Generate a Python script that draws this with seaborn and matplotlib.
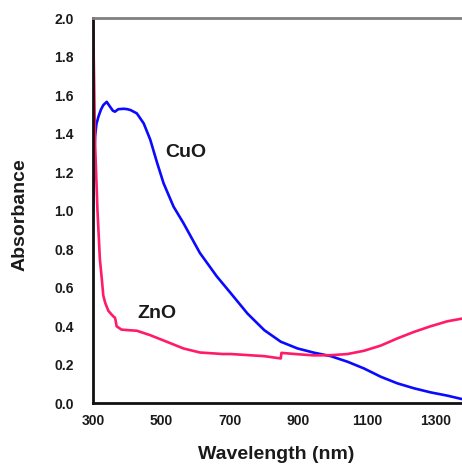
import numpy as np
import pandas as pd
import matplotlib
matplotlib.use("Agg")
import matplotlib.pyplot as plt
import seaborn as sns

# CuO absorbance spectrum
cuo_wavelength = [300, 303, 306, 310, 316, 323, 330, 340, 350, 358, 364, 374, 390, 400,
                  410, 428, 448, 467, 487, 506, 535, 564, 612, 661, 703, 751, 800, 848,
                  897, 945, 994, 1043, 1091, 1140, 1188, 1237, 1285, 1334, 1377]
cuo_absorbance = [1.00, 1.25, 1.385, 1.45, 1.49, 1.525, 1.549, 1.566, 1.54, 1.52, 1.515,
                  1.528, 1.530, 1.528, 1.523, 1.506, 1.454, 1.37, 1.25, 1.143, 1.022,
                  0.936, 0.781, 0.66, 0.57, 0.466, 0.38, 0.32, 0.285, 0.263, 0.245,
                  0.216, 0.181, 0.138, 0.104, 0.078, 0.057, 0.04, 0.022]

# ZnO absorbance spectrum
zno_wavelength = [300, 303, 306, 313, 320, 326, 330, 336, 345, 359, 364, 366, 369, 383,
                  403, 428, 467, 515, 564, 612, 680, 703, 800, 848, 850, 897, 945, 994,
                  1043, 1091, 1140, 1188, 1237, 1285, 1334, 1377]
zno_absorbance = [2.02, 1.70, 1.35, 1.005, 0.75, 0.64, 0.56, 0.52, 0.48, 0.452, 0.445,
                  0.43, 0.40, 0.383, 0.38, 0.377, 0.354, 0.32, 0.285, 0.264, 0.256,
                  0.256, 0.245, 0.233, 0.262, 0.255, 0.249, 0.25, 0.256, 0.273, 0.30,
                  0.337, 0.371, 0.40, 0.426, 0.44]

x_ticks = [300, 500, 700, 900, 1100, 1300]
y_ticks = [0.0, 0.2, 0.4, 0.6, 0.8, 1.0, 1.2, 1.4, 1.6, 1.8, 2.0]

sns.set_style("white")
plt.rcParams["font.family"] = ["Liberation Sans", "DejaVu Sans"]
plt.rcParams["font.weight"] = "bold"

df = pd.concat([
    pd.DataFrame({"wavelength": cuo_wavelength, "absorbance": cuo_absorbance, "sample": "CuO"}),
    pd.DataFrame({"wavelength": zno_wavelength, "absorbance": zno_absorbance, "sample": "ZnO"}),
])

fig = plt.figure(figsize=(4.62, 4.68), dpi=100)
ax = fig.add_axes([0.2013, 0.1382, 0.7987, 0.8227])

sns.lineplot(data=df, x="wavelength", y="absorbance", hue="sample",
             palette={"CuO": "#0a0aff", "ZnO": "#ff1a6a"}, linewidth=1.9,
             legend=False, ax=ax, sort=False)

ax.set_xlim(300, 1377)
ax.set_ylim(0, 2.0)
ax.set_xticks(x_ticks)
ax.set_yticks(y_ticks)
ax.set_yticklabels([f"{v:.1f}" for v in y_ticks])

ax.tick_params(axis="both", direction="in", length=4, width=1.5, colors="#333333",
               labelsize=10, labelcolor="#1a1a1a")
ax.tick_params(axis="y", pad=14)
ax.tick_params(axis="x", pad=8)
for lab in ax.get_xticklabels() + ax.get_yticklabels():
    lab.set_fontweight("bold")

ax.set_xlabel("Wavelength (nm)", fontsize=14, fontweight="bold", color="#1a1a1a")
ax.set_ylabel("Absorbance", fontsize=14, fontweight="bold", color="#1a1a1a")
ax.xaxis.set_label_coords(0.496, -0.112)
ax.yaxis.set_label_coords(-0.175, 0.489)

for side in ["left", "bottom"]:
    ax.spines[side].set_color("#111111")
    ax.spines[side].set_linewidth(2)
ax.spines["top"].set_color("#808080")
ax.spines["top"].set_linewidth(2)
ax.spines["right"].set_visible(False)

ax.text(570, 1.304, "CuO", fontsize=14, fontweight="bold", ha="center", va="center",
        color="#1a1a1a")
ax.text(487, 0.469, "ZnO", fontsize=14, fontweight="bold", ha="center", va="center",
        color="#1a1a1a")

fig.savefig("out.png", dpi=100)
